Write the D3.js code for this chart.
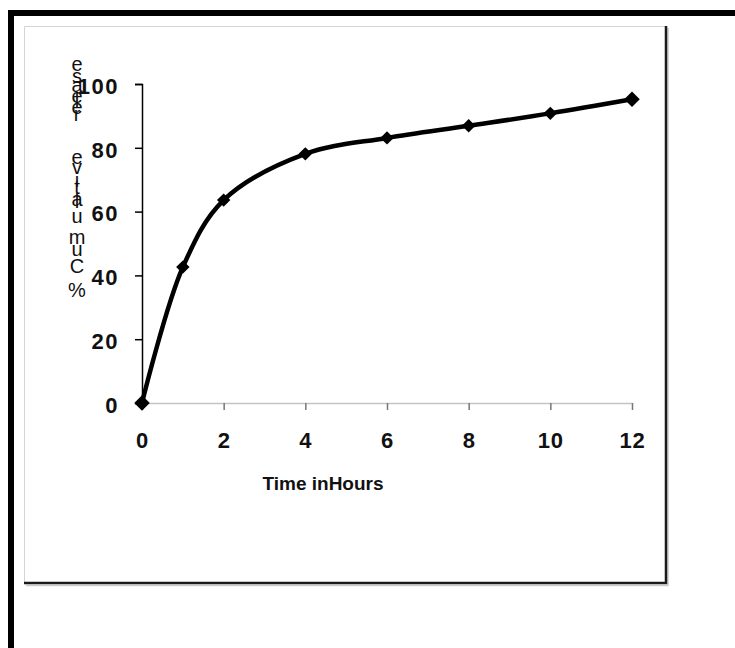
<!DOCTYPE html>
<html>
<head>
<meta charset="utf-8">
<script src="https://cdn.jsdelivr.net/npm/d3@7"></script>
<style>
  html, body { margin: 0; padding: 0; background: #fff; }
  svg { display: block; font-family: Arial, "Liberation Sans", sans-serif; }
</style>
</head>
<body>
<svg id="chart" width="735" height="648"></svg>
<script>
// data
const hours = [0, 1, 2, 4, 6, 8, 10, 12];
const release = [0, 42.6, 63.6, 78.1, 83.1, 86.9, 90.8, 95.2];
const xTicks = [0, 2, 4, 6, 8, 10, 12];
const yTicks = [0, 20, 40, 60, 80, 100];
const xTitle = "Time inHours";
const yTitle = "% Cumulative release";

const svg = d3.select('#chart');

// outer black frame (top and left only, the rest is cropped)
svg.append("rect").attr("x", 8).attr("y", 10).attr("width", 727).attr("height", 6).attr("fill", "#000");
svg.append("rect").attr("x", 8).attr("y", 10).attr("width", 6).attr("height", 638).attr("fill", "#000");

// inner chart box with a shadowed right/bottom edge
svg.append("path").attr("d", "M24.5,583 V26.5 H666").attr("fill", "none").attr("stroke", "#d4d4d4").attr("stroke-width", 1);
svg.append("path").attr("d", "M668,28 V585.5 H26").attr("fill", "none").attr("stroke", "#ccc").attr("stroke-width", 1.5);
svg.append("path").attr("d", "M666,26 V583 H24").attr("fill", "none").attr("stroke", "#1a1a1a").attr("stroke-width", 2.5);

const margin = { left: 142, top: 84 };
const width = 490, height = 319;

const g = svg.append('g').attr('transform', `translate(${margin.left},${margin.top})`);

const x = d3.scaleLinear().domain([0, 12]).range([0, width]);
const y = d3.scaleLinear().domain([0, 100]).range([height, 0]);

// x axis: light grey line, short ticks below
const xAxis = g.append("g").attr("transform", `translate(0,${height})`)
    .call(d3.axisBottom(x).tickValues(xTicks).tickSize(7).tickSizeOuter(0).tickPadding(22));
xAxis.select(".domain").attr("stroke", "#c4c4c4").attr("stroke-width", 1.5);
xAxis.selectAll(".tick line").attr("stroke", "#777").attr("stroke-width", 1.5);
xAxis.selectAll(".tick text")
    .attr("fill", "#111").style("font-size", "22px").style("font-weight", "bold")
    .style("letter-spacing", "0.8px");

// y axis: black line, ticks on the left
const yAxis = g.append("g")
    .call(d3.axisLeft(y).tickValues(yTicks).tickSize(7).tickSizeOuter(7).tickPadding(16));
yAxis.select(".domain").attr("stroke", "#000").attr("stroke-width", 1.5);
yAxis.selectAll(".tick line").attr("stroke", "#000").attr("stroke-width", 1.5);
yAxis.selectAll(".tick text")
    .attr("fill", "#111").attr("dy", "0.42em").style("font-size", "22px").style("font-weight", "bold")
    .style("letter-spacing", "1.5px");

const points = hours.map((h, i) => ({ h: h, v: release[i] }));

const line = d3.line()
    .x(d => x(d.h))
    .y(d => y(d.v))
    .curve(d3.curveCatmullRom.alpha(0.5));

g.append("path")
    .datum(points)
    .attr("d", line)
    .attr("fill", "none")
    .attr("stroke", "#000")
    .attr("stroke-width", 4.5)
    .attr("stroke-linejoin", "round");

// square diamonds (a square turned by 45 degrees)
g.selectAll(".marker")
    .data(points)
    .enter().append("path")
    .attr("class", "marker")
    .attr("transform", d => `translate(${x(d.h)},${y(d.v)}) rotate(45)`)
    .attr("d", (d, i) => d3.symbol(d3.symbolSquare, (i === 0 || i === points.length - 1) ? 120 : 90)());

// x title
svg.append("text")
    .attr("x", 323).attr("y", 490)
    .attr("text-anchor", "middle")
    .style("font-size", "19px").style("font-weight", "bold").attr("fill", "#111")
    .text(xTitle);

// y title: letters stacked upright, read from bottom to top (as in the source)
const titleChars = yTitle.split("").reverse();
const charY = [64, 76, 85, 96, 101, 107, 114, 136, 157, 167, 180, 187, 199, 201, 216, 237, 249, 266, 278, 290];
svg.append("g").selectAll("text")
    .data(titleChars)
    .enter().append("text")
    .attr("x", 77)
    .attr("y", (c, i) => charY[i])
    .attr("dy", "0.35em")
    .attr("text-anchor", "middle")
    .style("font-size", "20px").attr("fill", "#111")
    .text(c => c);
</script>
</body>
</html>
